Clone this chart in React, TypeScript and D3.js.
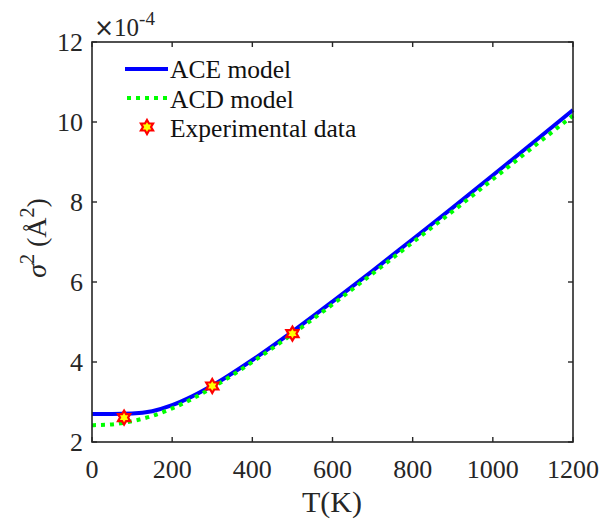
import React from "react";
import * as d3 from "d3";

const temps = [0, 50, 100, 150, 200, 250, 300, 400, 500, 600, 700, 800, 900, 1000, 1100, 1200];
const aceValues = [2.70, 2.70, 2.71, 2.77, 2.92, 3.14, 3.41, 4.05, 4.76, 5.51, 6.28, 7.07, 7.86, 8.67, 9.48, 10.30];
const acdValues = [2.42, 2.44, 2.52, 2.65, 2.84, 3.08, 3.36, 4.00, 4.70, 5.44, 6.21, 6.99, 7.77, 8.57, 9.37, 10.16];
const expTemps = [80, 300, 500];
const expValues = [2.61, 3.40, 4.71];
const xTicks = [0, 200, 400, 600, 800, 1000, 1200];
const yTicks = [2, 4, 6, 8, 10, 12];
const legendLabels = ["ACE model", "ACD model", "Experimental data"];

const W = 612, H = 521;
const L = 92, R = 573, T = 42, B = 442;
const axisColor = "#262626";
const font = "'Liberation Serif', 'Times New Roman', serif";

function hexagram(cx: number, cy: number, r: number) {
  const pts: string[] = [];
  for (let i = 0; i < 12; i++) {
    const ang = -Math.PI / 2 + (i * Math.PI) / 6;
    const rr = i % 2 === 0 ? r : r * 0.577;
    pts.push(`${cx + rr * Math.cos(ang)},${cy + rr * Math.sin(ang)}`);
  }
  return pts.join(" ");
}

export default function App() {
  const x = d3.scaleLinear().domain([0, 1200]).range([L, R]);
  const y = d3.scaleLinear().domain([2, 12]).range([B, T]);
  const line = d3
    .line<[number, number]>()
    .x((d) => x(d[0]))
    .y((d) => y(d[1]))
    .curve(d3.curveMonotoneX);
  const acePath = line(temps.map((t, i) => [t, aceValues[i]]) as [number, number][]) || "";
  const acdPath = line(temps.map((t, i) => [t, acdValues[i]]) as [number, number][]) || "";
  const tickLen = 5;

  return (
    <svg width={W} height={H} style={{ position: "absolute", left: 0, top: 0, background: "#fff" }}>
      <defs>
        <clipPath id="plot">
          <rect x={L} y={T - 5} width={R - L + 5} height={B - T + 5} />
        </clipPath>
      </defs>
      <rect x={0} y={0} width={W} height={H} fill="#fff" />
      <g clipPath="url(#plot)">
        <path d={acePath} fill="none" stroke="#0000ff" strokeWidth={4} />
        <path d={acdPath} fill="none" stroke="#00ff00" strokeWidth={4} strokeDasharray="4,5" />
      </g>
      {expTemps.map((t, i) => (
        <polygon
          key={i}
          points={hexagram(x(t), y(expValues[i]), 7)}
          fill="#ffff00"
          stroke="#ff0000"
          strokeWidth={2.2}
        />
      ))}
      <rect x={L} y={T} width={R - L} height={B - T} fill="none" stroke={axisColor} strokeWidth={1.6} />
      {xTicks.map((t) => (
        <g key={"x" + t}>
          <line x1={x(t)} x2={x(t)} y1={B} y2={B - tickLen} stroke={axisColor} strokeWidth={1.4} />
          <line x1={x(t)} x2={x(t)} y1={T} y2={T + tickLen} stroke={axisColor} strokeWidth={1.4} />
          <text x={x(t)} y={478} textAnchor="middle" fontFamily={font} fontSize={26} fill={axisColor}>
            {t}
          </text>
        </g>
      ))}
      {yTicks.map((t) => (
        <g key={"y" + t}>
          <line x1={L} x2={L + tickLen} y1={y(t)} y2={y(t)} stroke={axisColor} strokeWidth={1.4} />
          <line x1={R} x2={R - tickLen} y1={y(t)} y2={y(t)} stroke={axisColor} strokeWidth={1.4} />
          <text x={L - 9} y={y(t) + 9} textAnchor="end" fontFamily={font} fontSize={26} fill={axisColor}>
            {t}
          </text>
        </g>
      ))}
      <text x={94} y={36} fontFamily={font} fontSize={25} fill={axisColor}>
        <tspan fontFamily="'DejaVu Sans', sans-serif" fontSize={24}>×</tspan>
        <tspan>10</tspan>
        <tspan dy={-11} fontSize={19}>-4</tspan>
      </text>
      <text x={332} y={512} textAnchor="middle" fontFamily={font} fontSize={30} fill={axisColor}>
        T(K)
      </text>
      <text
        transform={`translate(46, 238) rotate(-90)`}
        textAnchor="middle"
        fontFamily={font}
        fontSize={28}
        fill={axisColor}
      >
        <tspan fontStyle="italic">σ</tspan>
        <tspan dy={-12} fontSize={20}>2</tspan>
        <tspan dy={12}> (Å</tspan>
        <tspan dy={-12} fontSize={20}>2</tspan>
        <tspan dy={12}>)</tspan>
      </text>
      <line x1={125} x2={168} y1={69} y2={69} stroke="#0000ff" strokeWidth={4} />
      <line x1={127} x2={168} y1={98} y2={98} stroke="#00ff00" strokeWidth={4} strokeDasharray="4,5" />
      <polygon points={hexagram(147, 127, 7)} fill="#ffff00" stroke="#ff0000" strokeWidth={2.2} />
      {legendLabels.map((l, i) => (
        <text key={l} x={170} y={78 + i * 29.5} fontFamily={font} fontSize={25.5} fill="#111">
          {l}
        </text>
      ))}
    </svg>
  );
}
